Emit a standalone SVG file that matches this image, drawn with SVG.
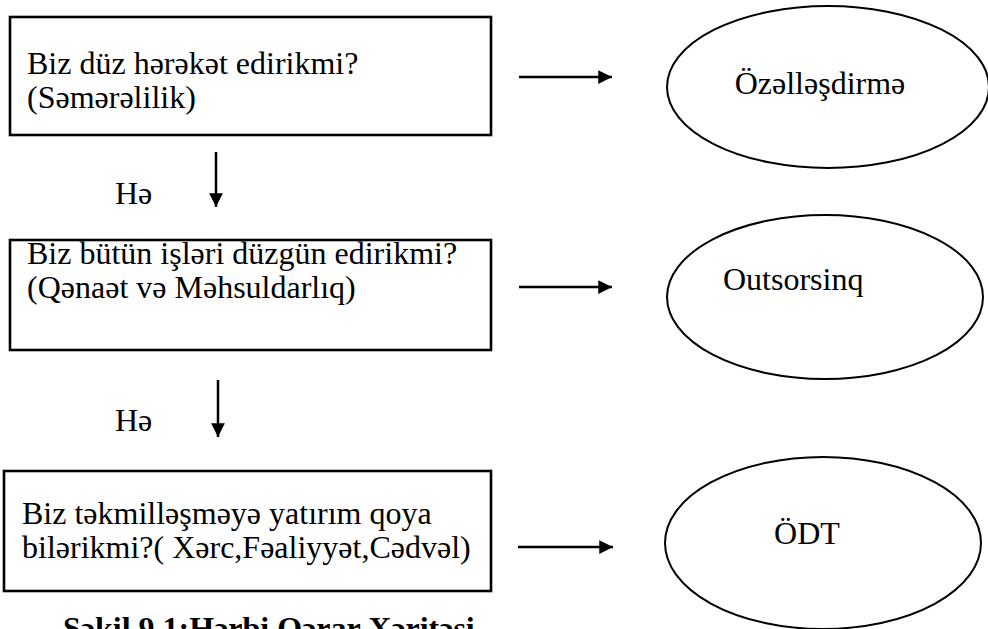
<svg xmlns="http://www.w3.org/2000/svg" width="988" height="629" viewBox="0 0 988 629">
<style>
.box{fill:#fff;stroke:#000;stroke-width:2.6}
.ell{fill:#fff;stroke:#000;stroke-width:2}
.t{font-family:"Liberation Serif","Times New Roman",serif;font-size:32px;fill:#000}
.cap{font-family:"Liberation Serif","Times New Roman",serif;font-size:32px;font-weight:bold;fill:#000}
.ln{stroke:#000;stroke-width:2.5;fill:none}
</style>
<defs>
<marker id="ah" viewBox="0 0 10 10" refX="10" refY="5" markerWidth="5.5" markerHeight="5.5" markerUnits="strokeWidth" orient="auto">
<path d="M0,0 L10,5 L0,10 Z" fill="#000"/>
</marker>
</defs>
<rect width="988" height="629" fill="#fff"/>
<g id="box1">
<rect class="box" x="10" y="17" width="481" height="118"/>
<text class="t" x="27" y="74">Biz düz hərəkət edirikmi?</text>
<text class="t" x="27" y="108">(Səmərəlilik)</text>
</g>
<g id="box2">
<rect class="box" x="10" y="240" width="481" height="110"/>
<text class="t" x="27" y="264">Biz bütün işləri düzgün edirikmi?</text>
<text class="t" x="27" y="298">(Qənaət və Məhsuldarlıq)</text>
</g>
<g id="box3">
<rect class="box" x="4" y="471" width="487" height="120"/>
<text class="t" x="22" y="524">Biz təkmilləşməyə yatırım qoya</text>
<text class="t" x="22" y="558">bilərikmi?( Xərc,Fəaliyyət,Cədvəl)</text>
</g>
<g id="ell1">
<ellipse class="ell" cx="828" cy="87" rx="161" ry="81"/>
<text class="t" x="820" y="94" text-anchor="middle">Özəlləşdirmə</text>
</g>
<g id="ell2">
<ellipse class="ell" cx="825" cy="297" rx="158" ry="82"/>
<text class="t" x="723" y="290">Outsorsinq</text>
</g>
<g id="ell3">
<ellipse class="ell" cx="823" cy="543" rx="158" ry="86"/>
<text class="t" x="807" y="544" text-anchor="middle">ÖDT</text>
</g>
<g id="connectors">
<line class="ln" x1="519" y1="77" x2="612" y2="77" marker-end="url(#ah)"/>
<line class="ln" x1="519" y1="287" x2="612" y2="287" marker-end="url(#ah)"/>
<line class="ln" x1="518" y1="547" x2="613" y2="547" marker-end="url(#ah)"/>
<line class="ln" x1="216" y1="152" x2="216" y2="207" marker-end="url(#ah)"/>
<line class="ln" x1="218" y1="380" x2="218" y2="437" marker-end="url(#ah)"/>
<text class="t" x="115" y="204">Hə</text>
<text class="t" x="115" y="431">Hə</text>
</g>
<text class="cap" x="63" y="639">Şəkil 9.1:Hərbi Qərar Xəritəsi</text>
</svg>
